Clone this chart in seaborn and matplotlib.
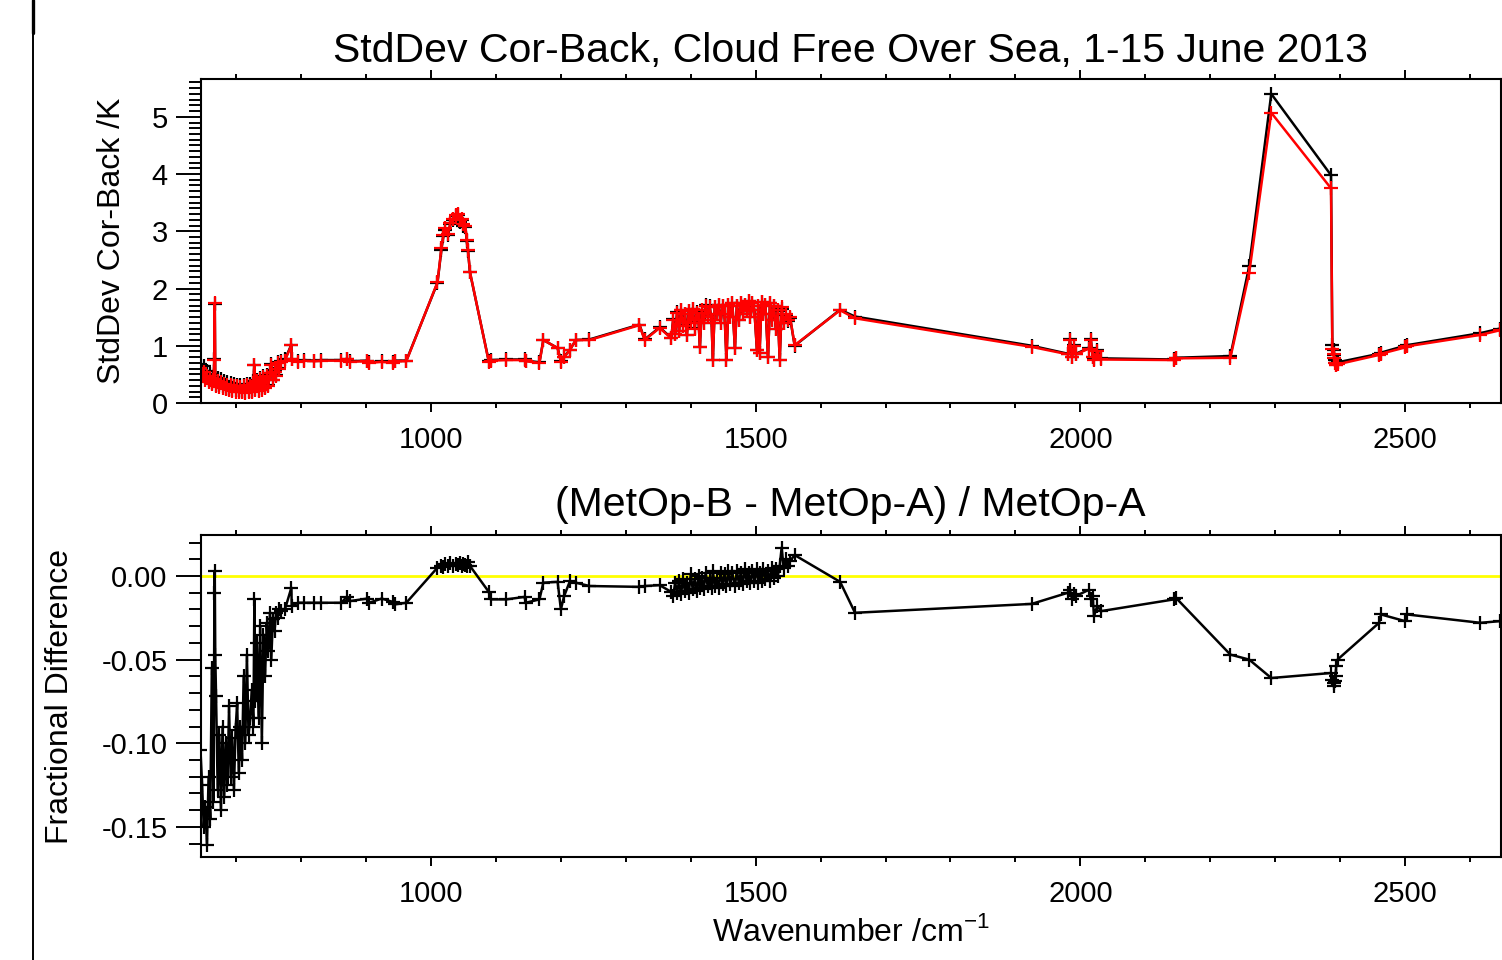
import numpy as np
import pandas as pd
import matplotlib
matplotlib.use("Agg")
import matplotlib.pyplot as plt
import seaborn as sns
from matplotlib.ticker import MultipleLocator, FormatStrFormatter
from matplotlib.lines import Line2D

# ---------------- data ----------------
wavenumber = [
    645.0, 647.5, 650.0, 652.5, 655.0, 657.5, 660.0, 662.5, 665.0, 666.5,
    667.0, 667.75, 669.0, 671.5, 674.0, 676.5, 679.0, 681.5, 684.0, 686.5,
    689.0, 691.5, 694.0, 696.5, 699.0, 701.5, 704.0, 706.5, 709.0, 711.5,
    714.0, 716.5, 719.0, 721.5, 724.0, 726.5, 728.0, 729.5, 732.0, 734.5,
    737.0, 739.5, 742.0, 744.5, 747.0, 749.5, 752.0, 754.0, 756.5, 759.0,
    761.5, 764.0, 766.5, 769.0,
    775, 785, 785.5, 795, 805, 820, 831, 862, 870, 875, 902, 905, 924, 941, 944, 962,
    1010, 1016, 1019, 1022, 1026, 1030, 1034, 1038, 1041, 1044, 1047, 1050, 1053, 1055, 1057, 1060,
    1089, 1092, 1116, 1144, 1146, 1167, 1173, 1195, 1200, 1205, 1214, 1223, 1244,
    1321, 1329, 1352, 1370,
    1373, 1376, 1379, 1382, 1385, 1388, 1391, 1394, 1397, 1400,
    1403, 1406, 1409, 1412, 1414, 1417, 1420, 1423, 1426, 1429,
    1432, 1434, 1437, 1440, 1443, 1446, 1449, 1452, 1455, 1458,
    1461, 1464, 1468, 1471, 1474, 1477, 1480, 1483, 1486, 1489,
    1492, 1495, 1498, 1502, 1504, 1506, 1509, 1512, 1515, 1519,
    1522, 1525, 1528, 1531, 1534, 1537, 1540, 1543, 1547, 1550,
    1553, 1560,
    1630, 1653, 1925, 1981, 1984, 1987, 1990, 1993, 2013, 2016, 2019, 2021, 2026, 2032,
    2144, 2147, 2231, 2260, 2294, 2386, 2388, 2390, 2391, 2392, 2393, 2394, 2396,
    2460, 2463, 2500, 2503, 2616, 2646, 2700,
]

stddev_metop_a = [
    0.69, 0.55, 0.65, 0.46, 0.56, 0.41, 0.51, 0.35, 0.46, 0.76,
    1.73, 0.44, 0.32, 0.44, 0.31, 0.42, 0.29, 0.39, 0.27, 0.37,
    0.24, 0.35, 0.23, 0.34, 0.22, 0.31, 0.22, 0.31, 0.21, 0.32,
    0.20, 0.34, 0.21, 0.33, 0.21, 0.38, 0.67, 0.24, 0.40, 0.23,
    0.43, 0.26, 0.47, 0.28, 0.49, 0.31, 0.53, 0.69, 0.41, 0.57,
    0.49, 0.72, 0.61, 0.74,
    0.76, 1.02, 0.77, 0.73, 0.75, 0.74, 0.75, 0.75, 0.77, 0.73, 0.74, 0.71, 0.73, 0.71, 0.74, 0.74,
    2.10, 2.68, 2.91, 3.03, 2.93, 3.13, 3.20, 3.26, 3.28, 3.17, 3.20, 3.10, 3.08, 2.83, 2.65, 2.28,
    0.73, 0.75, 0.76, 0.76, 0.74, 0.71, 1.10, 0.96, 0.73, 0.81, 0.93, 1.10, 1.11,
    1.37, 1.11, 1.32, 1.14,
    1.46, 1.21, 1.59, 1.26, 1.63, 1.36, 1.56, 1.19, 1.61, 1.41,
    1.65, 1.31, 1.59, 1.46, 0.98, 1.63, 1.40, 1.71, 1.50, 1.69,
    1.45, 0.75, 1.68, 1.56, 1.72, 1.40, 1.70, 1.56, 0.75, 1.72,
    1.50, 1.75, 0.96, 1.70, 1.45, 1.75, 1.55, 1.72, 1.60, 1.78,
    1.50, 1.75, 1.62, 0.92, 1.70, 0.88, 1.76, 1.55, 1.71, 0.80,
    1.74, 1.45, 1.69, 1.30, 1.61, 0.75, 1.65, 1.39, 1.54, 1.44,
    1.49, 1.00,
    1.63, 1.51, 1.00, 0.86, 1.11, 0.81, 1.01, 0.86, 0.96, 1.12, 0.81, 0.77, 0.92, 0.78,
    0.76, 0.79, 0.82, 2.39, 5.40, 3.98, 1.01, 0.92, 0.84, 0.75, 0.70, 0.70, 0.71,
    0.86, 0.88, 1.00, 1.01, 1.22, 1.30, 1.42,
]

stddev_metop_b = [
    0.62, 0.48, 0.55, 0.40, 0.47, 0.36, 0.44, 0.33, 0.40, 0.75,
    1.74, 0.42, 0.30, 0.38, 0.28, 0.36, 0.26, 0.34, 0.24, 0.32,
    0.22, 0.31, 0.21, 0.30, 0.20, 0.29, 0.19, 0.28, 0.19, 0.30,
    0.18, 0.32, 0.19, 0.30, 0.20, 0.35, 0.66, 0.22, 0.38, 0.21,
    0.42, 0.23, 0.45, 0.26, 0.48, 0.30, 0.52, 0.66, 0.40, 0.55,
    0.48, 0.70, 0.60, 0.72,
    0.74, 1.01, 0.76, 0.72, 0.74, 0.73, 0.74, 0.74, 0.76, 0.72, 0.73, 0.70, 0.72, 0.70, 0.73, 0.73,
    2.11, 2.70, 2.93, 3.05, 2.95, 3.15, 3.22, 3.28, 3.30, 3.20, 3.22, 3.12, 3.10, 2.85, 2.67, 2.29,
    0.72, 0.74, 0.75, 0.75, 0.73, 0.70, 1.10, 0.96, 0.72, 0.80, 0.93, 1.10, 1.10,
    1.36, 1.10, 1.31, 1.13,
    1.45, 1.20, 1.58, 1.25, 1.62, 1.35, 1.55, 1.18, 1.60, 1.40,
    1.65, 1.30, 1.58, 1.45, 0.98, 1.62, 1.40, 1.70, 1.50, 1.68,
    1.45, 0.75, 1.68, 1.55, 1.72, 1.40, 1.70, 1.55, 0.75, 1.72,
    1.50, 1.75, 0.96, 1.70, 1.45, 1.75, 1.55, 1.72, 1.60, 1.78,
    1.50, 1.75, 1.62, 0.92, 1.70, 0.88, 1.76, 1.55, 1.72, 0.80,
    1.74, 1.45, 1.70, 1.30, 1.62, 0.75, 1.68, 1.40, 1.55, 1.45,
    1.50, 1.01,
    1.62, 1.48, 0.98, 0.85, 1.10, 0.80, 1.00, 0.85, 0.95, 1.10, 0.80, 0.75, 0.90, 0.76,
    0.75, 0.78, 0.79, 2.27, 5.07, 3.75, 0.95, 0.86, 0.79, 0.70, 0.66, 0.66, 0.675,
    0.84, 0.86, 0.97, 0.99, 1.19, 1.27, 1.38,
]

fractional_difference = [
    -0.104, -0.125, -0.150, -0.138, -0.161, -0.120, -0.145, -0.055, -0.135, -0.010,
    0.003, -0.047, -0.072, -0.128, -0.095, -0.140, -0.090, -0.132, -0.100, -0.125,
    -0.078, -0.120, -0.097, -0.128, -0.092, -0.076, -0.118, -0.090, -0.110, -0.060,
    -0.100, -0.047, -0.095, -0.085, -0.068, -0.090, -0.014, -0.075, -0.040, -0.085,
    -0.030, -0.100, -0.035, -0.060, -0.028, -0.045, -0.022, -0.050, -0.026, -0.033,
    -0.022, -0.025, -0.020, -0.021,
    -0.020, -0.007, -0.018, -0.016, -0.016, -0.016, -0.016, -0.016, -0.0125, -0.015,
    -0.0135, -0.016, -0.0135, -0.0155, -0.017, -0.016,
    0.005, 0.006, 0.0055, 0.007, 0.006, 0.0075, 0.006, 0.007, 0.0065, 0.008, 0.006, 0.007,
    0.0065, 0.006, 0.0083, 0.006,
    -0.0095, -0.014, -0.014, -0.0125, -0.016, -0.014, -0.004, -0.0035, -0.020, -0.012,
    -0.003, -0.004, -0.006,
    -0.0065, -0.006, -0.0055, -0.0095,
    -0.012, -0.004, -0.010, -0.003, -0.011, -0.002, -0.009, -0.004, -0.010, 0.001,
    -0.008, -0.002, -0.009, 0.000, -0.007, -0.001, -0.008, 0.002, -0.006, -0.001,
    -0.007, 0.003, -0.006, -0.001, -0.007, 0.002, -0.005, 0.001, -0.006, 0.003,
    -0.005, 0.002, -0.006, 0.003, -0.004, 0.002, -0.005, 0.004, -0.003, 0.002,
    -0.004, 0.003, -0.003, 0.004, -0.004, 0.002, -0.003, 0.004, -0.002, 0.003,
    -0.003, 0.005, -0.001, 0.004, 0.000, 0.006, 0.017, 0.005, 0.010, 0.006,
    0.009, 0.0125,
    -0.0035, -0.022, -0.0167, -0.010, -0.0083, -0.0135, -0.011, -0.012, -0.0083, -0.014,
    -0.012, -0.024, -0.018, -0.021,
    -0.014, -0.013, -0.047, -0.050, -0.061, -0.058, -0.062, -0.066, -0.064, -0.063,
    -0.060, -0.054, -0.050,
    -0.028, -0.023, -0.027, -0.023, -0.028, -0.027, -0.026,
]

title_top = "StdDev Cor-Back, Cloud Free Over Sea, 1-15 June 2013"
title_bottom = "(MetOp-B - MetOp-A) / MetOp-A"
ylabel_top = "StdDev Cor-Back /K"
ylabel_bottom = "Fractional Difference"
xlabel_text = r"Wavenumber /cm$^{\mathregular{-1}}$"

assert len(wavenumber) == len(stddev_metop_a) == len(stddev_metop_b) == len(fractional_difference)

df = pd.DataFrame({
    "wavenumber": wavenumber,
    "metop_a": stddev_metop_a,
    "metop_b": stddev_metop_b,
    "frac": fractional_difference,
})

# ---------------- style ----------------
sns.set_theme(style="ticks")
plt.rcParams["font.family"] = ["Liberation Sans", "DejaVu Sans"]
plt.rcParams["mathtext.fontset"] = "custom"
plt.rcParams["mathtext.rm"] = "Liberation Sans"
plt.rcParams["axes.linewidth"] = 1.5
for key in ("text.color", "axes.labelcolor", "xtick.color", "ytick.color", "axes.edgecolor"):
    plt.rcParams[key] = "black"

W, H = 1502, 960
fig = plt.figure(figsize=(W / 100, H / 100), dpi=100, facecolor="white")

def ax_rect(left, top, right, bottom):
    return [left / W, 1 - bottom / H, (right - left) / W, (bottom - top) / H]

ax1 = fig.add_axes(ax_rect(201, 79, 1500.5, 403))
ax2 = fig.add_axes(ax_rect(201, 535, 1500.5, 857))

line_kw = dict(linewidth=1.8, marker="+", markersize=10, markeredgewidth=1.6,
               estimator=None, sort=False, legend=False)

sns.lineplot(data=df, x="wavenumber", y="metop_a", color="black",
             markeredgecolor="black", ax=ax1, **line_kw)
sns.lineplot(data=df, x="wavenumber", y="metop_b", color="red",
             markeredgecolor="red", ax=ax1, **line_kw)

ax2.axhline(0, color="#ffff00", linewidth=2, zorder=1)
sns.lineplot(data=df, x="wavenumber", y="frac", color="black",
             markeredgecolor="black", ax=ax2, zorder=2, **line_kw)

xlim = (645.8, 2647)
for ax in (ax1, ax2):
    ax.set_xlim(*xlim)
    ax.xaxis.set_major_locator(MultipleLocator(500))
    ax.xaxis.set_minor_locator(MultipleLocator(100))
    ax.tick_params(axis="x", which="both", direction="out", top=True, bottom=True,
                   labeltop=False, labelsize=21, pad=10, width=1.4, colors="black")
    ax.tick_params(axis="x", which="major", length=6.5)
    ax.tick_params(axis="x", which="minor", length=3.6)
    ax.tick_params(axis="y", which="both", direction="out", left=True, right=False,
                   labelsize=21, pad=6, width=1.4, colors="black")
    ax.tick_params(axis="y", which="major", length=18)
    ax.tick_params(axis="y", which="minor", length=8.6)
    for s in ax.spines.values():
        s.set_visible(True)
        s.set_color("black")
        s.set_linewidth(1.5)
    ax.grid(False)
    ax.set_facecolor("white")

ax1.set_ylim(0, 5.66)
ax1.yaxis.set_major_locator(MultipleLocator(1))
ax1.yaxis.set_minor_locator(MultipleLocator(0.1))
ax1.set_xlabel("")
ax1.set_ylabel(ylabel_top, fontsize=23)
ax1.yaxis.set_label_coords(-0.057, 0.5)
ax1.set_title(title_top, fontsize=29.5, pad=12.5)

ax2.set_ylim(-0.168, 0.0245)
ax2.yaxis.set_major_locator(MultipleLocator(0.05))
ax2.yaxis.set_minor_locator(MultipleLocator(0.01))
ax2.yaxis.set_major_formatter(FormatStrFormatter("%.2f"))
ax2.set_ylabel(ylabel_bottom, fontsize=23)
ax2.yaxis.set_label_coords(-0.097, 0.5)
ax2.set_xlabel(xlabel_text, fontsize=23)
ax2.xaxis.set_label_coords(0.5, -0.184)
ax2.set_title(title_bottom, fontsize=29.5, pad=13.5)

# left frame border of the original page crop
fig.add_artist(Line2D([33 / W, 33 / W], [0, 1], transform=fig.transFigure,
                      color="black", linewidth=1.4))
fig.add_artist(Line2D([33 / W, 33 / W], [1 - 33 / H, 1], transform=fig.transFigure,
                      color="black", linewidth=2.4))

fig.savefig("out.png", dpi=100, facecolor="white")
